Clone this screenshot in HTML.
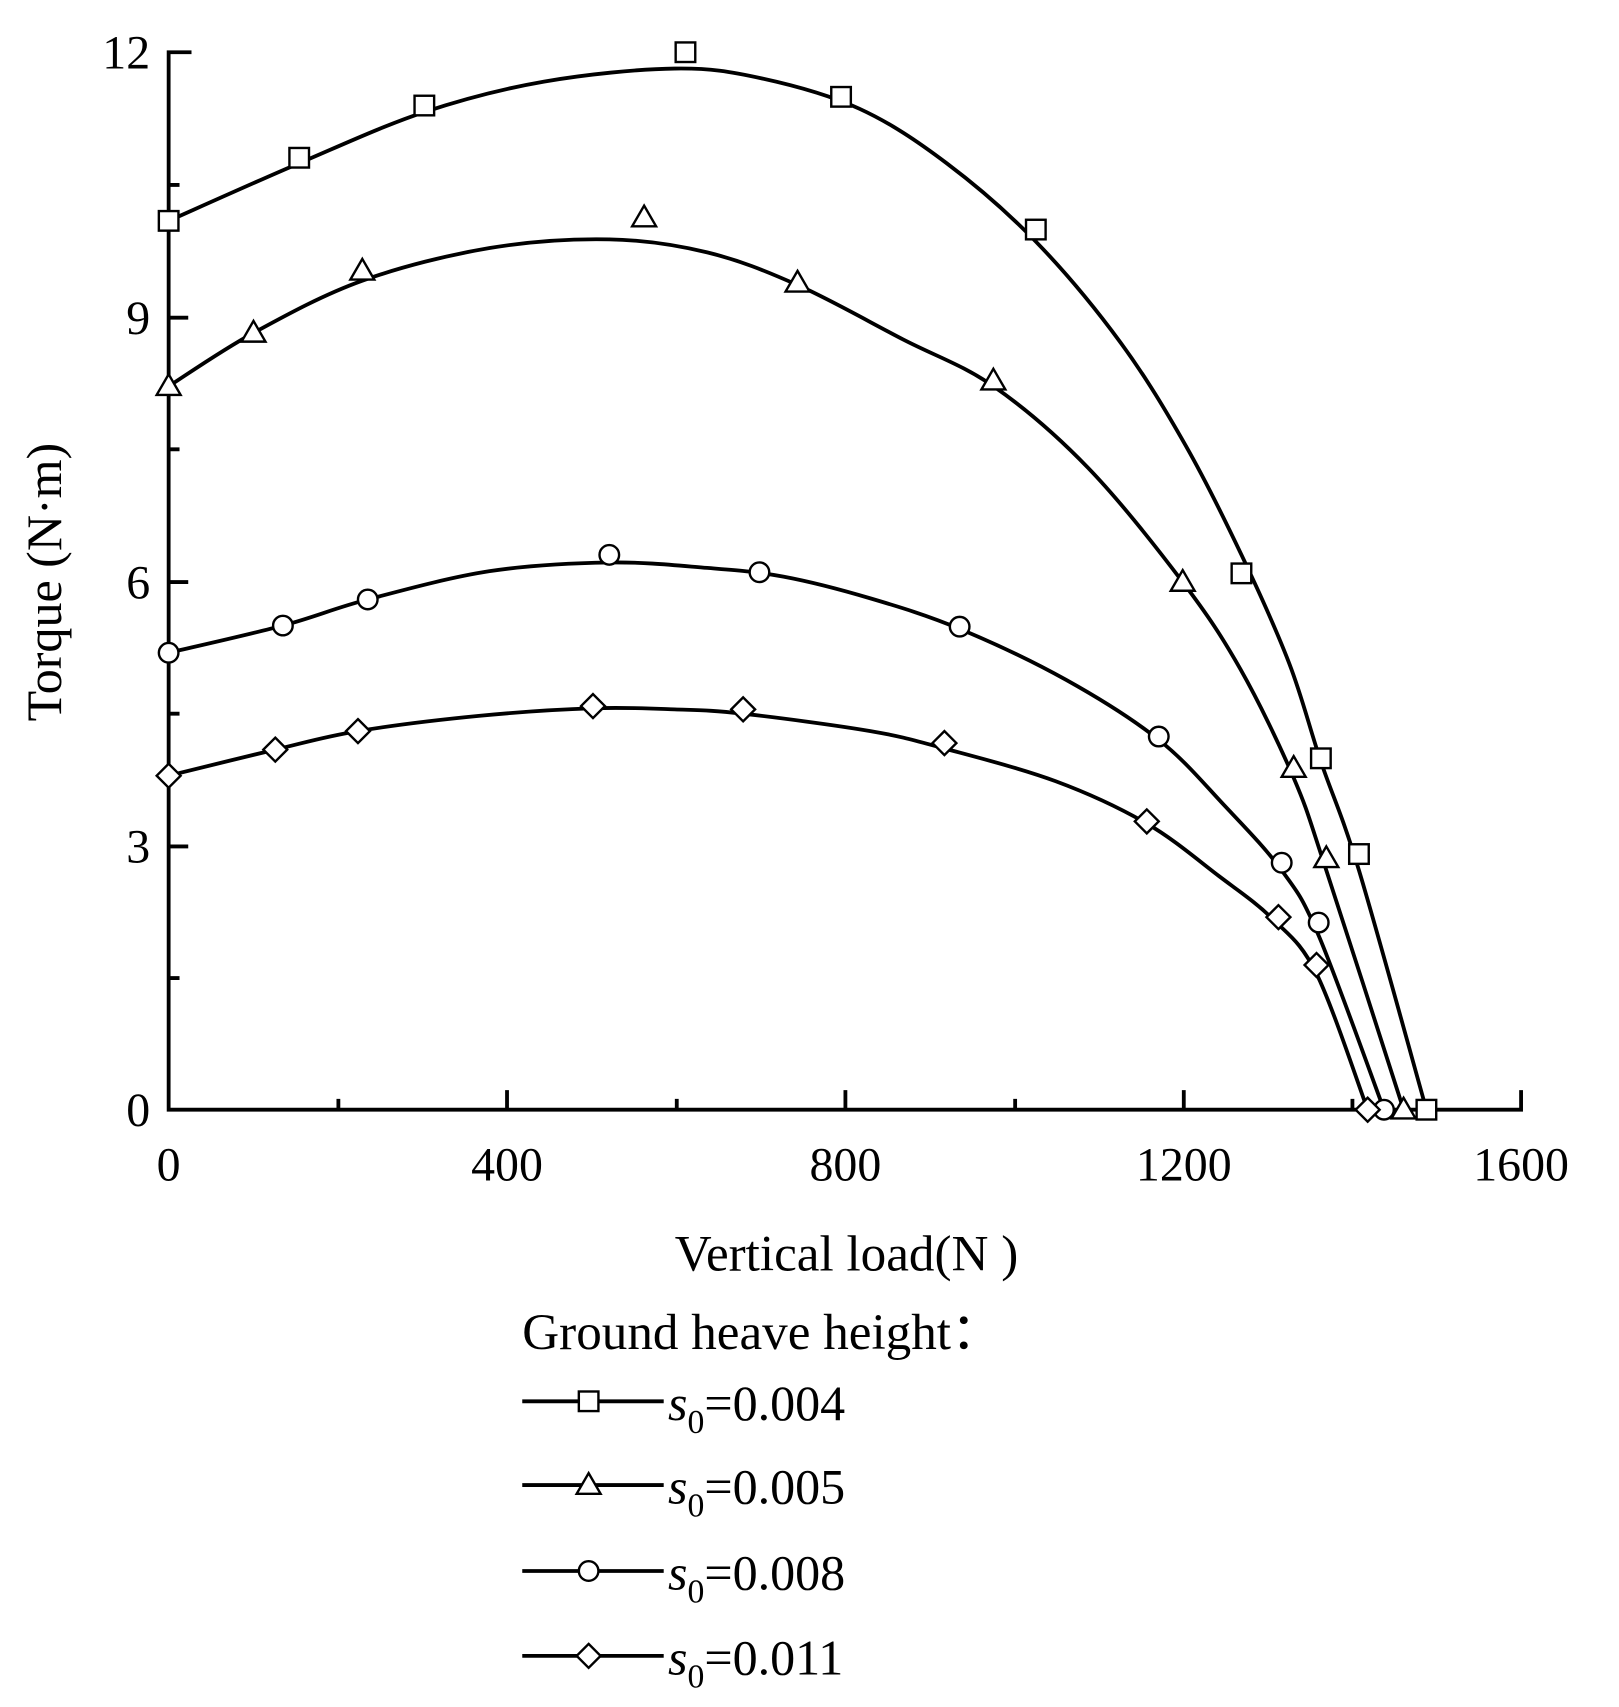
<!DOCTYPE html>
<html><head><meta charset="utf-8"><style>
html,body{margin:0;padding:0;background:#fff;}
svg{display:block;}
text{font-family:"Liberation Serif",serif;fill:#000;}
</style></head><body>
<svg id="s" width="1619" height="1707" viewBox="0 0 1488 1569" preserveAspectRatio="none" xmlns="http://www.w3.org/2000/svg">
<g stroke="#000" stroke-width="3.5" fill="none">
<path d="M176,48 H155 V1020 H1398 V1002"/>
<path d="M466,1020 V1002 M777,1020 V1002 M1088,1020 V1002 M311,1020 V1010 M622,1020 V1010 M933,1020 V1010 M1243,1020 V1010"/>
<path d="M155,292 H173 M155,535 H173 M155,778 H173 M155,170 H165 M155,413 H165 M155,656 H165 M155,899 H165"/>
</g>
<g font-size="44" text-anchor="end">
<text x="138" y="63">12</text><text x="138" y="307">9</text><text x="138" y="550">6</text><text x="138" y="793">3</text><text x="138" y="1035">0</text>
</g>
<g font-size="44" text-anchor="middle">
<text x="155" y="1085">0</text><text x="466" y="1085">400</text><text x="777" y="1085">800</text><text x="1088" y="1085">1200</text><text x="1398" y="1085">1600</text>
</g>
<text font-size="46" text-anchor="middle" transform="translate(56,535) rotate(-90)">Torque (N·m)</text>
<text font-size="47" x="778" y="1168" text-anchor="middle">Vertical load(N )</text>
<text font-size="47" x="480" y="1240">Ground heave height：</text>
<g id="curves" stroke="#000" stroke-width="3.5" fill="none"></g>
<g id="marks" stroke="#000" stroke-width="2.2" fill="#fff"></g>
<g font-size="46">
<text x="614" y="1305"><tspan font-style="italic">s</tspan><tspan font-size="31" dy="12">0</tspan><tspan dy="-12">=0.004</tspan></text>
<text x="614" y="1382"><tspan font-style="italic">s</tspan><tspan font-size="31" dy="12">0</tspan><tspan dy="-12">=0.005</tspan></text>
<text x="614" y="1461"><tspan font-style="italic">s</tspan><tspan font-size="31" dy="12">0</tspan><tspan dy="-12">=0.008</tspan></text>
<text x="614" y="1539"><tspan font-style="italic">s</tspan><tspan font-size="31" dy="12">0</tspan><tspan dy="-12">=0.011</tspan></text>
</g>
</svg>
<script>
var NS="http://www.w3.org/2000/svg";
var curves=[
[[155,203],[275,150],[390,103],[500,75],[620,63],[700,72],[790,100],[870,150],[952,222],[1030,315],[1090,410],[1141,510],[1185,610],[1214,700],[1249,800],[1311,1020]],
[[155,355],[233,306],[333,258],[450,228],[560,220],[650,232],[733,262],[830,312],[913,355],[1000,430],[1087,535],[1140,615],[1189,715],[1219,800],[1290,1020]],
[[155,600],[260,575],[338,551],[450,525],[560,517],[650,522],[720,530],[800,550],[882,578],[980,625],[1065,680],[1125,740],[1178,800],[1212,860],[1272,1020]],
[[155,713],[253,689],[329,672],[440,658],[545,651],[620,652],[683,656],[800,672],[868,688],[970,718],[1054,757],[1120,805],[1170,845],[1210,895],[1257,1020]]];
var marks=[
[[155,203],[275,145],[390,97],[630,48],[773,89],[952,211],[1141,527],[1214,697],[1249,785],[1311,1020]],
[[155,355],[233,306],[333,249],[592,200],[733,260],[913,350],[1087,535],[1189,706],[1219,789],[1290,1020]],
[[155,600],[260,575],[338,551],[560,510],[698,526],[882,576],[1065,677],[1178,793],[1212,848],[1272,1020]],
[[155,713],[253,689],[329,672],[545,649],[683,652],[868,683],[1054,755],[1175,843],[1210,887],[1257,1020]]];
function cr(p){var d="M"+p[0][0]+","+p[0][1];for(var i=0;i<p.length-1;i++){var a=p[Math.max(i-1,0)],b=p[i],c=p[i+1],e=p[Math.min(i+2,p.length-1)];
d+=" C"+(b[0]+(c[0]-a[0])/6)+","+(b[1]+(c[1]-a[1])/6)+" "+(c[0]-(e[0]-b[0])/6)+","+(c[1]-(e[1]-b[1])/6)+" "+c[0]+","+c[1];}return d;}
var cg=document.getElementById("curves"),mg=document.getElementById("marks");
curves.forEach(function(p){var e=document.createElementNS(NS,"path");e.setAttribute("d",cr(p));cg.appendChild(e);});
function mk(t,x,y){var e;
if(t==0){e=document.createElementNS(NS,"rect");e.setAttribute("x",x-9);e.setAttribute("y",y-9);e.setAttribute("width",18);e.setAttribute("height",18);}
else if(t==1){e=document.createElementNS(NS,"polygon");e.setAttribute("points",(x)+","+(y-11)+" "+(x+11)+","+(y+8)+" "+(x-11)+","+(y+8));}
else if(t==2){e=document.createElementNS(NS,"circle");e.setAttribute("cx",x);e.setAttribute("cy",y);e.setAttribute("r",9);}
else{e=document.createElementNS(NS,"polygon");e.setAttribute("points",x+","+(y-11)+" "+(x+11)+","+y+" "+x+","+(y+11)+" "+(x-11)+","+y);}
mg.appendChild(e);}
marks.forEach(function(p,t){p.forEach(function(q){mk(t,q[0],q[1]);});});
var ly=[1288,1365,1444,1522];
ly.forEach(function(y,t){var l=document.createElementNS(NS,"path");l.setAttribute("d","M480,"+y+" H610");l.setAttribute("stroke","#000");l.setAttribute("stroke-width","3.5");cg.appendChild(l);mk(t,541,y);});
</script>
</body></html>
